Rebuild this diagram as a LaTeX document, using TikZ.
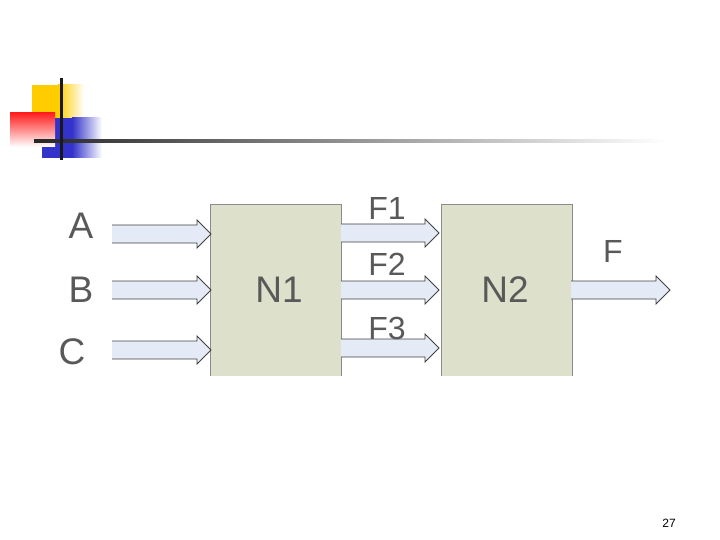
\documentclass[tikz,border=0pt]{standalone}
\usepackage{fontspec}
\setmainfont{Liberation Sans}
\definecolor{boxfill}{HTML}{DDE0CB}
\definecolor{arrfill}{HTML}{E4EAF6}
\definecolor{txt}{HTML}{595959}
\definecolor{decoyellow}{HTML}{FFCC00}
\definecolor{decored}{HTML}{FF2020}
\definecolor{decoblue}{HTML}{3333CC}
\newcommand\blockarrow[3]{%
  \fill[arrfill] (#1,#3-9) -- (#2-14,#3-9) -- (#2-14,#3-14) -- (#2,#3) -- (#2-14,#3+14) -- (#2-14,#3+9) -- (#1,#3+9) -- cycle;
  \draw[arrline] (#1,#3-9) -- (#2-14,#3-9) -- (#2-14,#3-14) -- (#2,#3) -- (#2-14,#3+14) -- (#2-14,#3+9) -- (#1,#3+9);}
\begin{document}
\begin{tikzpicture}[x=1pt,y=-1pt,
  arrline/.style={draw=black!75,line width=0.8pt,line join=miter},
  block/.style={fill=boxfill,minimum width=131pt,minimum height=172pt,inner sep=0pt,anchor=north west},
  border/.style={draw=black!45,line width=0.8pt},
  lbl/.style={text=txt,font=\fontsize{37}{37}\selectfont,inner sep=0pt},
  flbl/.style={text=txt,font=\fontsize{32}{32}\selectfont,inner sep=0pt}]
\useasboundingbox (0,0) rectangle (720,540);
% decoration
\fill[decoyellow] (32,85) rectangle (58,118);
\shade[left color=decoyellow,right color=white] (58,85) rectangle (84,118);
\fill[decoblue] (42,118) rectangle (72,158);
\shade[left color=decoblue,right color=white] (72,118) rectangle (102,158);
\shade[shading=axis,shading angle=-60,top color=decored,bottom color=white] (10,113) rectangle (55,147);
\shade[left color=black!85,middle color=black!27,right color=white] (34,139.5) rectangle (665,142.5);
\fill[black!90] (59.5,78) rectangle (62.5,160);
% blocks
\node[block] (N1) at (210,204) {};
\node[block] (N2) at (441,204) {};
\draw[border] (N1.south west) -- (N1.north west) -- (N1.north east) -- (N1.south east);
\draw[border] (N2.south west) -- (N2.north west) -- (N2.north east) -- (N2.south east);
\node[lbl] (n1) at (279,290) {N1};
\node[lbl] (n2) at (505,290) {N2};
% arrows
\blockarrow{112}{211}{234}
\blockarrow{112}{211}{290}
\blockarrow{112}{211}{350}
\blockarrow{341}{439}{233}
\blockarrow{341}{439}{290}
\blockarrow{341}{439}{348}
\blockarrow{571}{670}{290}
% labels
\node[lbl] (A) at (81,226) {A};
\node[lbl] (B) at (81,290) {B};
\node[lbl] (C) at (72,352) {C};
\node[flbl] (F1) at (387,208) {F1};
\node[flbl] (F2) at (387,264) {F2};
\node[flbl] (F3) at (387,328) {F3};
\node[flbl] (F) at (613,251) {F};
\node[font=\fontsize{12}{12}\selectfont,inner sep=0pt] (pg) at (669,523) {27};
\end{tikzpicture}
\end{document}
